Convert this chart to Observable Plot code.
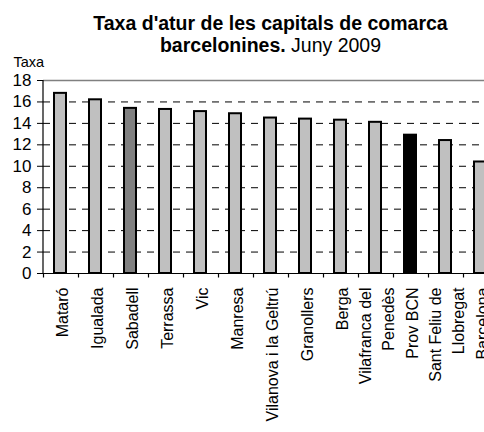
<!DOCTYPE html>
<html>
<head>
<meta charset="utf-8">
<script src="https://cdn.jsdelivr.net/npm/d3@7"></script>
<script src="https://cdn.jsdelivr.net/npm/@observablehq/plot@0.6"></script>
<style>
  html, body { margin: 0; padding: 0; background: white; overflow: hidden; width: 484px; height: 432px; }
  body { font-family: "Liberation Sans", Arial, sans-serif; color: black; position: relative; }
  #title { position: absolute; left: 43px; top: 0; width: 455px; padding-top: 13px; text-align: center; z-index: 2;
           font-size: 19.5px; line-height: 21.5px; font-weight: bold; white-space: nowrap; }
  #title span { font-weight: normal; }
  #chart { width: 484px; height: 432px; overflow: hidden; }
  #chart svg { max-width: none !important; }
</style>
</head>
<body>
<div id="title">Taxa d'atur de les capitals de comarca<br>barcelonines.<span> Juny 2009</span></div>
<div id="chart"></div>
<script>
const categories = ["Mataró", "Igualada", "Sabadell", "Terrassa", "Vic", "Manresa", "Vilanova i la Geltrú", "Granollers", "Berga", "Vilafranca del Penedès", "Prov BCN", "Sant Feliu de Llobregat", "Barcelona"];
const labels = ["Mataró", "Igualada", "Sabadell", "Terrassa", "Vic", "Manresa", "Vilanova i la Geltrú", "Granollers", "Berga", "Vilafranca del\nPenedès", "Prov BCN", "Sant Feliu de\nLlobregat", "Barcelona"];
const values = [16.8, 16.2, 15.4, 15.3, 15.1, 14.9, 14.5, 14.4, 14.3, 14.1, 12.9, 12.4, 10.4];
const fills = ["#c0c0c0", "#c0c0c0", "#808080", "#c0c0c0", "#c0c0c0", "#c0c0c0", "#c0c0c0", "#c0c0c0", "#c0c0c0", "#c0c0c0", "#000000", "#c0c0c0", "#c0c0c0"];
const yTicks = [0, 2, 4, 6, 8, 10, 12, 14, 16, 18];
const gridValues = [2, 4, 6, 8, 10, 12, 14, 16];
const yLabel = "Taxa";

const data = categories.map((c, i) => ({name: c, label: labels[i], value: values[i], fill: fills[i]}));

const plot = Plot.plot({
  width: 500,
  height: 432,
  marginLeft: 43,
  marginRight: 2,
  marginTop: 80,
  marginBottom: 159,
  style: {fontFamily: "'Liberation Sans', Arial, sans-serif", fontSize: "17px", color: "black", background: "transparent", overflow: "visible"},
  x: {domain: categories, paddingInner: 0.65, paddingOuter: 0.325, axis: null},
  y: {domain: [0, 18], ticks: yTicks, tickSize: 6, tickPadding: 6, label: null},
  color: {type: "identity"},
  marks: [
    Plot.ruleY(gridValues, {stroke: "black", strokeWidth: 1, strokeDasharray: "7,6"}),
    Plot.ruleY([18], {stroke: "#808080", strokeWidth: 1.5}),
    Plot.barY(data, {x: "name", y: "value", fill: "fill", stroke: "black", strokeWidth: 2}),
    Plot.ruleY([0], {stroke: "black", strokeWidth: 1.2}),
    Plot.text([yLabel], {frameAnchor: "top-left", text: d => d, dx: -30, dy: -14, textAnchor: "start", lineAnchor: "bottom", fontSize: 14.5}),
    Plot.text(data, {x: "name", text: "label", frameAnchor: "bottom", rotate: -90, textAnchor: "end", lineAnchor: "middle", dy: 14, fontSize: 16, lineHeight: 1.4})
  ]
});
document.getElementById("chart").appendChild(plot);

// axis line and band-boundary ticks from the plot's own scales
const xs = plot.scale("x"), ys = plot.scale("y");
const y0 = ys.apply(0) + 0.5, yTop = ys.apply(18);
const gap = (xs.step - xs.bandwidth) / 2;
const bounds = categories.map(c => xs.apply(c) - gap);
bounds.push(bounds[bounds.length - 1] + xs.step);
const g = d3.select(plot).append("g").attr("stroke", "black").attr("stroke-width", 1.2);
g.append("line").attr("x1", bounds[0] + 0.5).attr("x2", bounds[0] + 0.5).attr("y1", yTop).attr("y2", y0);
g.selectAll("line.t").data(bounds).join("line").attr("class", "t")
  .attr("x1", d => Math.round(d) + 0.5).attr("x2", d => Math.round(d) + 0.5)
  .attr("y1", y0).attr("y2", y0 + 4);
</script>
</body>
</html>
